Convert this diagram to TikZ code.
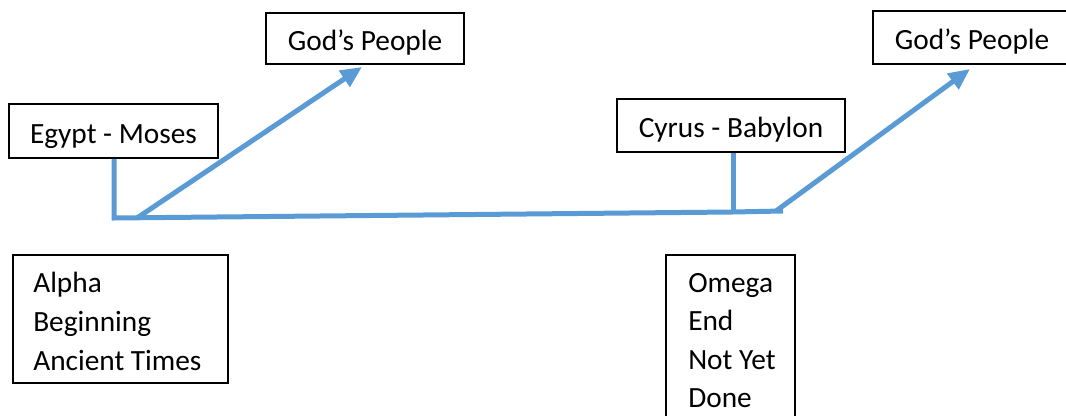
\documentclass[tikz,border=0pt]{standalone}
\usepackage{fontspec}
\setmainfont{Carlito}
\usetikzlibrary{arrows.meta}
\definecolor{lineblue}{HTML}{5B9BD5}
\tikzset{
  box/.style={draw=black, line width=1.2pt, rectangle, inner sep=0pt,
    font=\fontsize{22}{28.9}\selectfont, text height=18.7pt, text depth=0pt},
  emptybox/.style={draw=black, line width=1.2pt, rectangle, inner sep=0pt},
  multitext/.style={inner sep=0pt, anchor=base west, font=\fontsize{22}{28.9}\selectfont},
  link/.style={draw=lineblue, line width=3.75pt},
  arrowlink/.style={link, -{Triangle[length=16pt,width=14pt]}}
}
\begin{document}
\begin{tikzpicture}[x=0.75pt,y=-0.75pt]
\useasboundingbox (0,0) rectangle (1066,416);
% boxes
\node[box, minimum width=148.5pt, minimum height=38.25pt] (godL) at (365,38.5) {God’s People};
\node[box, minimum width=148.5pt, minimum height=39.75pt] (godR) at (972,37.5) {God’s People};
\node[box, minimum width=156.75pt, minimum height=40.5pt] (egypt) at (113.5,131) {Egypt - Moses};
\node[box, minimum width=171pt, minimum height=39.75pt] (cyrus) at (731,125.5) {Cyrus - Babylon};
\node[emptybox, minimum width=161.25pt, minimum height=96pt] (alpha) at (120.5,319) {};
\node[multitext] (alphatext) at (33,293) {\begin{tabular}[t]{@{}l@{}}Alpha\\Beginning\\Ancient Times\end{tabular}};
\node[emptybox, minimum width=96.75pt, minimum height=142.5pt] (omega) at (730.5,350) {};
\node[multitext] (omegatext) at (688,292) {\begin{tabular}[t]{@{}l@{}}Omega\\End\\Not Yet\\Done\end{tabular}};
% junction coordinates
\coordinate (j1) at (114,218);
\coordinate (j2) at (733,212);
\coordinate (j3) at (783,211);
\coordinate (aLs) at (137,218);
\coordinate (aRs) at (776,211);
\coordinate (tipL) at (362,67);
\coordinate (tipR) at (970,69);
% connectors
\draw[link] (egypt.south -| j1) -- (j1) -- (j2);
\draw[link] (cyrus.south -| j2) -- (j2);
\draw[link] (j2) -- (j3);
\draw[arrowlink] (aLs) -- (tipL);
\draw[arrowlink] (aRs) -- (tipR);
\end{tikzpicture}
\end{document}
